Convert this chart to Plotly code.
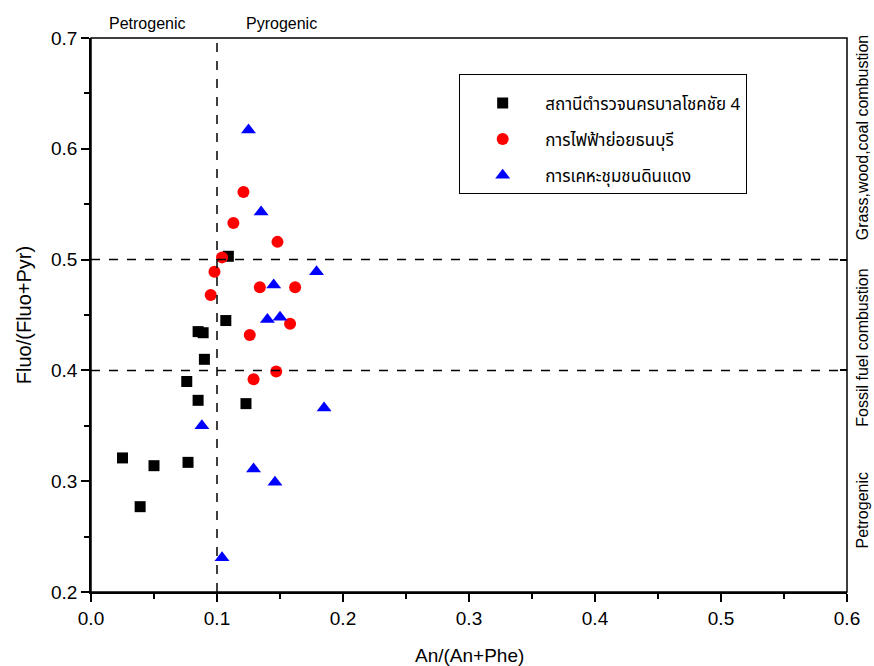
import plotly.graph_objects as go

series_names = ["สถานีตำรวจนครบาลโชคชัย 4", "การไฟฟ้าย่อยธนบุรี", "การเคหะชุมชนดินแดง"]

black_x = [0.025, 0.039, 0.050, 0.077, 0.076, 0.085, 0.090, 0.085, 0.089, 0.107, 0.109, 0.123]
black_y = [0.321, 0.277, 0.314, 0.317, 0.390, 0.373, 0.410, 0.435, 0.434, 0.445, 0.503, 0.370]

red_x = [0.121, 0.113, 0.148, 0.104, 0.098, 0.095, 0.134, 0.162, 0.158, 0.126, 0.147, 0.129]
red_y = [0.561, 0.533, 0.516, 0.502, 0.489, 0.468, 0.475, 0.475, 0.442, 0.432, 0.399, 0.392]

blue_x = [0.125, 0.135, 0.179, 0.145, 0.140, 0.150, 0.185, 0.088, 0.129, 0.146, 0.104]
blue_y = [0.617, 0.543, 0.489, 0.477, 0.446, 0.448, 0.366, 0.350, 0.311, 0.299, 0.231]

x_ticks = [0.0, 0.1, 0.2, 0.3, 0.4, 0.5, 0.6]
y_ticks = [0.2, 0.3, 0.4, 0.5, 0.6, 0.7]

FONT = "Liberation Sans, Arial, sans-serif"
THAI = "Noto Sans Thai, Tahoma, Liberation Sans, sans-serif"

fig = go.Figure()
fig.add_trace(go.Scatter(x=black_x, y=black_y, mode="markers", name=series_names[0], legendgroup="a",
                         marker=dict(symbol="square", size=11, color="black")))
fig.add_trace(go.Scatter(x=red_x, y=red_y, mode="markers", name=series_names[1], legendgroup="b",
                         marker=dict(symbol="circle", size=12, color="red")))
fig.add_trace(go.Scatter(x=blue_x, y=blue_y, mode="markers", name=series_names[2], legendgroup="c",
                         marker=dict(symbol="triangle-up", size=13, color="blue")))

# dashed threshold lines
dash = dict(color="black", width=1.5, dash="dash")
fig.add_shape(type="line", xref="x", yref="paper", x0=0.1, x1=0.1, y0=0, y1=1, line=dash)
fig.add_shape(type="line", xref="paper", yref="y", x0=0, x1=1, y0=0.5, y1=0.5, line=dash)
fig.add_shape(type="line", xref="paper", yref="y", x0=0, x1=1, y0=0.4, y1=0.4, line=dash)
# plot frame
fig.add_shape(type="rect", xref="paper", yref="paper", x0=0, x1=1, y0=0, y1=1,
              line=dict(color="black", width=1.5), layer="above")

# annotations
fig.add_annotation(x=0.045, y=0.7, xref="x", yref="y", text="Petrogenic", showarrow=False,
                   yanchor="bottom", yshift=4, font=dict(family=FONT, size=16, color="black"))
fig.add_annotation(x=0.151, y=0.7, xref="x", yref="y", text="Pyrogenic", showarrow=False,
                   yanchor="bottom", yshift=4, font=dict(family=FONT, size=16, color="black"))
for txt, yv in [("Grass,wood,coal combustion", 0.61), ("Fossil fuel combustion", 0.42), ("Petrogenic", 0.274)]:
    fig.add_annotation(x=1.0, y=yv, xref="paper", yref="y", text=txt, showarrow=False,
                       textangle=-90, xanchor="left", xshift=5,
                       font=dict(family=FONT, size=16, color="black"))
# x axis title
fig.add_annotation(x=0.5, y=0, xref="paper", yref="paper", text="An/(An+Phe)", showarrow=False,
                   yanchor="middle", yshift=-63, font=dict(family=FONT, size=19, color="black"))

fig.update_layout(
    width=874, height=666,
    margin=dict(l=91, r=27, t=38, b=74),
    plot_bgcolor="white", paper_bgcolor="white",
    font=dict(family=FONT, size=19, color="black"),
    legend=dict(x=0.487, y=0.935, xanchor="left", yanchor="top",
                bordercolor="black", borderwidth=1, bgcolor="white",
                font=dict(family=THAI, size=17, color="black"),
                title=dict(text=" ", font=dict(size=8)),
                traceorder="grouped", tracegroupgap=11, itemwidth=75),
    xaxis=dict(range=[0, 0.6], tickvals=x_ticks, ticktext=[f"{v:.1f}" for v in x_ticks],
               showgrid=False, zeroline=False, showline=True, linecolor="black", linewidth=1.5,
               mirror=False, ticks="outside", ticklen=8, tickwidth=1.5, tickcolor="black",
               minor=dict(dtick=0.05, ticks="outside", ticklen=5, tickwidth=1.5, tickcolor="black"),
               automargin=False, tickfont=dict(size=19)),
    yaxis=dict(range=[0.2, 0.7], tickvals=y_ticks, ticktext=[f"{v:.1f}" for v in y_ticks],
               showgrid=False, zeroline=False, showline=True, linecolor="black", linewidth=1.5,
               mirror=False, ticks="outside", ticklen=8, tickwidth=1.5, tickcolor="black",
               minor=dict(dtick=0.05, ticks="outside", ticklen=5, tickwidth=1.5, tickcolor="black"),
               title=dict(text="Fluo/(Fluo+Pyr)", font=dict(size=20), standoff=14),
               automargin=False, tickfont=dict(size=19)),
    yaxis2=dict(range=[0.2, 0.7], overlaying="y", side="right", tickvals=[0.4, 0.5],
                showticklabels=False, ticks="inside", ticklen=7, tickwidth=1.5, tickcolor="black",
                showgrid=False, zeroline=False, showline=False, automargin=False),
)
fig.add_trace(go.Scatter(x=[None], y=[None], yaxis="y2", showlegend=False, hoverinfo="skip"))

fig.write_html("out.html")
